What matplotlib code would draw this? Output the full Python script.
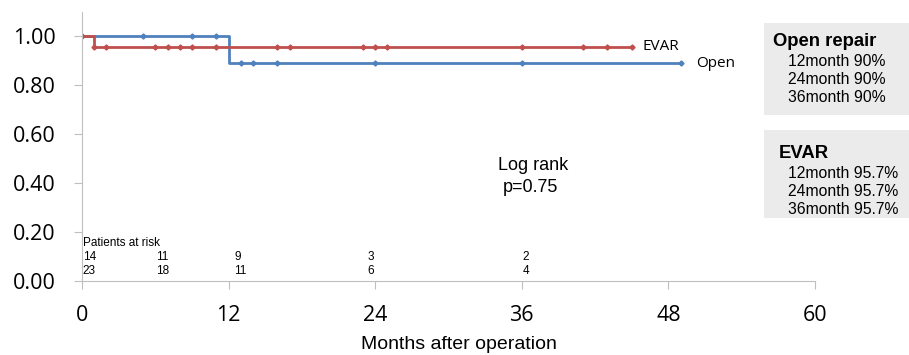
import matplotlib
matplotlib.use("Agg")
import matplotlib.pyplot as plt
from matplotlib.patches import Rectangle

# Kaplan-Meier step data
open_t = [0, 12, 12, 49]
open_s = [1.0, 1.0, 0.889, 0.889]
open_cens_t = [5, 9, 11, 13, 14, 16, 24, 36, 49]
open_cens_s = [1.0, 1.0, 1.0, 0.889, 0.889, 0.889, 0.889, 0.889, 0.889]

evar_t = [0, 1, 1, 45]
evar_s = [1.0, 1.0, 0.957, 0.957]
evar_cens_t = [0, 1, 2, 6, 7, 8, 9, 11, 16, 17, 23, 24, 25, 36, 41, 43, 45]
evar_cens_s = [1.0] + [0.957] * 16

risk_pos = [0, 6, 12.4, 23.3, 36.0]
risk_open = ["14", "11", "9", "3", "2"]
risk_evar = ["23", "18", "11", "6", "4"]

xticks = [0, 12, 24, 36, 48, 60]
yticks = [0.0, 0.2, 0.4, 0.6, 0.8, 1.0]

RED = "#c0504d"
BLUE = "#4f81bd"

fig = plt.figure(figsize=(9.09, 3.55), dpi=100)
ax = fig.add_axes([82 / 909, (355 - 281) / 355, (815 - 82) / 909, (281 - 11.5) / 355])

ax.plot(open_t, open_s, color=BLUE, lw=2.0, solid_capstyle="butt")
ax.plot(evar_t, evar_s, color=RED, lw=2.0, solid_capstyle="butt")
ax.plot(open_cens_t, open_cens_s, ls="none", marker="D", ms=2.6, color=BLUE)
ax.plot(evar_cens_t, evar_cens_s, ls="none", marker="D", ms=2.6, color=RED)

ax.set_xlim(0, 60)
ax.set_ylim(0, 1.1)
ax.set_xticks(xticks)
ax.set_xticklabels([str(v) for v in xticks], fontsize=15.5, family="Open Sans")
ax.set_yticks(yticks)
ax.set_yticklabels([f"{v:.2f}" for v in yticks], fontsize=15.5, family="Open Sans")
for s in ["top", "right"]:
    ax.spines[s].set_visible(False)
for s in ["left", "bottom"]:
    ax.spines[s].set_color("#bfbfbf")
ax.tick_params(axis="both", color="#bfbfbf", length=6, direction="out", labelcolor="black")
ax.tick_params(axis="x", pad=11)
ax.tick_params(axis="y", pad=13)

fig.text(459 / 909, 1 - 336 / 355, "Months after operation", fontsize=14,
         family="Liberation Sans", ha="center", va="top")

ax.text(45.9, 0.957, "EVAR", fontsize=11, family="Open Sans", va="center", ha="left")
ax.text(50.3, 0.889, "Open", fontsize=11, family="Open Sans", va="center", ha="left")

fig.text(498 / 909, 1 - 165 / 355, "Log rank", fontsize=13, family="Liberation Sans", ha="left", va="center")
fig.text(503 / 909, 1 - 187 / 355, "p=0.75", fontsize=13, family="Liberation Sans", ha="left", va="center")

ax.text(0.05, 0.155, "Patients at risk", fontsize=8.5, family="Liberation Sans", ha="left", va="center")
for x, a, b in zip(risk_pos, risk_open, risk_evar):
    ax.text(x + 0.05, 0.098, a, fontsize=8.5, family="Liberation Sans", ha="left", va="center")
    ax.text(x + 0.05, 0.04, b, fontsize=8.5, family="Liberation Sans", ha="left", va="center")

# stat boxes
def px(x, y):
    return x / 909, 1 - y / 355

for (y0, y1) in [(23, 115), (130, 218)]:
    x0, yb = px(764, y1)
    fig.patches.append(Rectangle((x0, yb), (909 - 764) / 909, (y1 - y0) / 355,
                                 transform=fig.transFigure, facecolor="#ebebeb", edgecolor="none"))

fig.text(*px(773, 41), "Open repair", fontsize=13.3, fontweight="bold", family="Liberation Sans", va="center")
for i, t in enumerate(["12month 90%", "24month 90%", "36month 90%"]):
    fig.text(*px(788, 62 + i * 18), t, fontsize=11.3, family="Liberation Sans", va="center")
fig.text(*px(779, 153), "EVAR", fontsize=13.3, fontweight="bold", family="Liberation Sans", va="center")
for i, t in enumerate(["12month 95.7%", "24month 95.7%", "36month 95.7%"]):
    fig.text(*px(788, 174 + i * 18), t, fontsize=11.3, family="Liberation Sans", va="center")

fig.savefig("out.png", dpi=100)
